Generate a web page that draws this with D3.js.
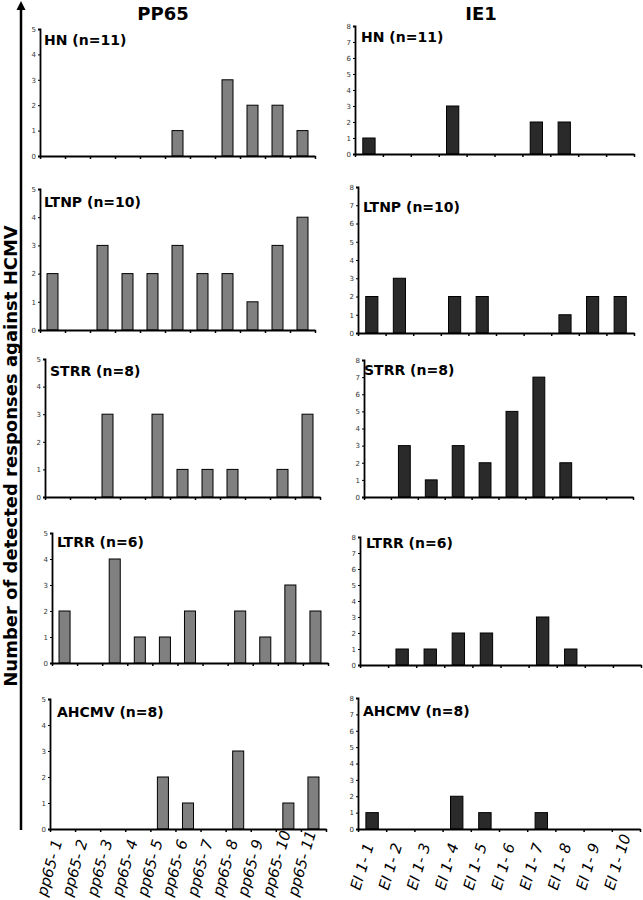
<!DOCTYPE html>
<html>
<head>
<meta charset="utf-8">
<script src="https://cdn.jsdelivr.net/npm/d3@7/dist/d3.min.js"></script>
<style>
  body { margin: 0; background: #fff; }
  svg { display: block; font-family: "DejaVu Sans", Verdana, sans-serif; }
</style>
</head>
<body>
<div id="chart"></div>
<script>
// categories
var pp65Labels = ["pp65- 1","pp65- 2","pp65- 3","pp65- 4","pp65- 5","pp65- 6","pp65- 7","pp65- 8","pp65- 9","pp65- 10","pp65- 11"];
var ie1Labels = ["EI 1- 1","EI 1- 2","EI 1- 3","EI 1- 4","EI 1- 5","EI 1- 6","EI 1- 7","EI 1- 8","EI 1- 9","EI 1- 10"];
var groupNames = ["HN (n=11)","LTNP (n=10)","STRR (n=8)","LTRR (n=6)","AHCMV (n=8)"];

// detected responses, pp65 peptides
var pp65HN    = [0,0,0,0,0,1,0,3,2,2,1];
var pp65LTNP  = [2,0,3,2,2,3,2,2,1,3,4];
var pp65STRR  = [0,0,3,0,3,1,1,1,0,1,3];
var pp65LTRR  = [2,0,4,1,1,2,0,2,1,3,2];
var pp65AHCMV = [0,0,0,0,2,1,0,3,0,1,2];

// detected responses, IE1 peptides
var ie1HN    = [1,0,0,3,0,0,2,2,0,0];
var ie1LTNP  = [2,3,0,2,2,0,0,1,2,2];
var ie1STRR  = [0,3,1,3,2,5,7,2,0,0];
var ie1LTRR  = [0,1,1,2,2,0,3,1,0,0];
var ie1AHCMV = [1,0,0,2,1,0,1,0,0,0];

// tick labels
var pp65Ticks = [0,1,2,3,4,5];
var ie1Ticks = [0,1,2,3,4,5,6,7,8];

var pp65Series = [pp65HN, pp65LTNP, pp65STRR, pp65LTRR, pp65AHCMV];
var ie1Series = [ie1HN, ie1LTNP, ie1STRR, ie1LTRR, ie1AHCMV];

// panel frames (pixels): x0/x1 = x axis, top = y of max tick, base = y of 0, lx/ly = title
var pp65Frames = [
  {x0: 40, x1: 315, top: 29,  base: 156, lx: 44, ly: 45},
  {x0: 40, x1: 315, top: 189, base: 330, lx: 44, ly: 207},
  {x0: 45, x1: 320, top: 359, base: 497, lx: 50, ly: 376},
  {x0: 52, x1: 328, top: 533, base: 663, lx: 57, ly: 547},
  {x0: 50, x1: 326, top: 699, base: 829, lx: 57, ly: 717}
];
var ie1Frames = [
  {x0: 355, x1: 634, top: 26,  base: 154, lx: 361, ly: 42},
  {x0: 358, x1: 634, top: 187, base: 333, lx: 363, ly: 212},
  {x0: 364, x1: 633, top: 360, base: 497, lx: 364, ly: 375},
  {x0: 360, x1: 641, top: 537, base: 665, lx: 366, ly: 548},
  {x0: 358, x1: 640, top: 698, base: 829, lx: 363, ly: 716}
];

var svg = d3.select("#chart").append("svg").attr("width", 643).attr("height", 900);

// big y axis arrow + title
svg.append("line").attr("x1", 21).attr("x2", 21).attr("y1", 6).attr("y2", 830)
  .attr("stroke", "#000").attr("stroke-width", 2.5);
svg.append("path").attr("d", "M21,1 L16.5,10 L25.5,10 Z").attr("fill", "#000");
svg.append("text").attr("transform", "translate(17,456) rotate(-90)")
  .attr("text-anchor", "middle").attr("font-size", 18).attr("font-weight", "bold")
  .text("Number of detected responses against HCMV");

// column headers
svg.append("text").attr("x", 163).attr("y", 20).attr("text-anchor", "middle")
  .attr("font-size", 18).attr("font-weight", "bold").text("PP65");
svg.append("text").attr("x", 481).attr("y", 20).attr("text-anchor", "middle")
  .attr("font-size", 18).attr("font-weight", "bold").text("IE1");

function drawPanel(f, values, cats, ticks, fill, title) {
  var g = svg.append("g");
  var x = d3.scaleBand().domain(cats).range([f.x0, f.x1]).paddingInner(0.56).paddingOuter(0.28);
  var y = d3.scaleLinear().domain([0, d3.max(ticks)]).range([f.base, f.top]);
  var edges = d3.scaleLinear().domain([0, cats.length]).range([f.x0, f.x1]);

  // bars
  g.selectAll("rect").data(values).enter().append("rect")
    .attr("x", function(d, i) { return x(cats[i]); })
    .attr("y", function(d) { return y(d); })
    .attr("width", x.bandwidth())
    .attr("height", function(d) { return f.base - y(d); })
    .attr("fill", fill).attr("stroke", "#000").attr("stroke-width", 1)
    .style("display", function(d) { return d > 0 ? null : "none"; });

  var ya = g.append("g").attr("transform", "translate(" + f.x0 + ",0)")
    .call(d3.axisLeft(y).tickValues(ticks).tickSize(2).tickPadding(2).tickFormat(d3.format("d")));
  ya.select(".domain").attr("stroke-width", 1.8);
  ya.selectAll("text").attr("font-size", 7).attr("fill", "#333").attr("font-family", "DejaVu Sans");

  var xa = g.append("g").attr("transform", "translate(0," + f.base + ")")
    .call(d3.axisBottom(edges).tickValues(d3.range(0, cats.length + 1)).tickSize(3).tickSizeOuter(0).tickFormat(""));
  xa.select(".domain").attr("stroke-width", 2.2);
  xa.selectAll(".tick line").attr("stroke-width", 1.5);

  g.append("text").attr("x", f.lx).attr("y", f.ly)
    .attr("font-size", 14).attr("font-weight", "bold").text(title);
  return x;
}

var xLeft, xRight;
for (var i = 0; i < groupNames.length; i++) {
  xLeft = drawPanel(pp65Frames[i], pp65Series[i], pp65Labels, pp65Ticks, "#808080", groupNames[i]);
  xRight = drawPanel(ie1Frames[i], ie1Series[i], ie1Labels, ie1Ticks, "#2a2a2a", groupNames[i]);
}

// category labels under the bottom panels
svg.append("g").selectAll("text").data(pp65Labels).enter().append("text")
  .attr("transform", function(d) { return "translate(" + (xLeft(d) + xLeft.bandwidth() / 2 - 16) + ",897) rotate(-74)"; })
  .attr("font-size", 15).attr("font-style", "italic").text(function(d) { return d; });
svg.append("g").selectAll("text").data(ie1Labels).enter().append("text")
  .attr("transform", function(d) { return "translate(" + (xRight(d) + xRight.bandwidth() / 2 - 12) + ",891) rotate(-73)"; })
  .attr("font-size", 15).attr("font-style", "italic").text(function(d) { return d; });
</script>
</body>
</html>
